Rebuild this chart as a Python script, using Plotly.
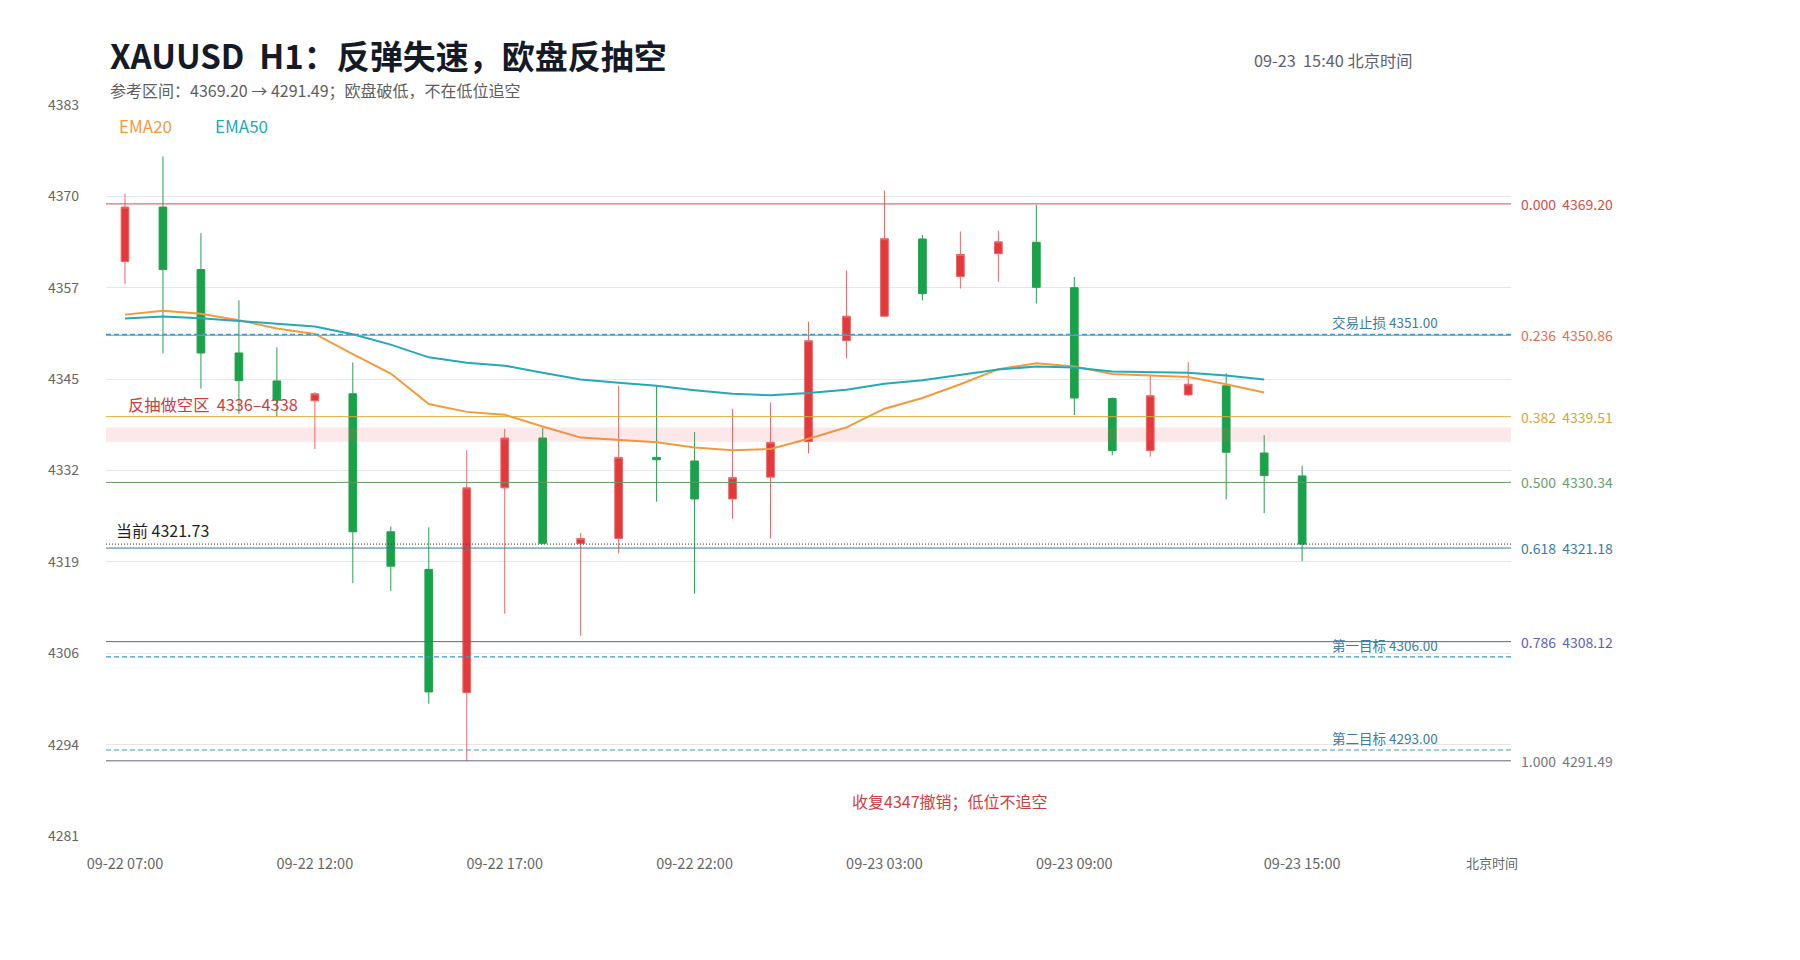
import plotly.graph_objects as go

# ---------------- data ----------------
times = [
    "09-22 07:00", "09-22 08:00", "09-22 09:00", "09-22 10:00", "09-22 11:00",
    "09-22 12:00", "09-22 13:00", "09-22 14:00", "09-22 15:00", "09-22 16:00",
    "09-22 17:00", "09-22 18:00", "09-22 19:00", "09-22 20:00", "09-22 21:00",
    "09-22 22:00", "09-22 23:00", "09-23 00:00", "09-23 01:00", "09-23 02:00",
    "09-23 03:00", "09-23 04:00", "09-23 06:00", "09-23 07:00", "09-23 08:00",
    "09-23 09:00", "09-23 10:00", "09-23 11:00", "09-23 12:00", "09-23 13:00",
    "09-23 14:00", "09-23 15:00",
]
open_ = [4361.15, 4368.76, 4360.04, 4348.40, 4344.50, 4341.72, 4342.70, 4323.45,
         4318.20, 4301.00, 4329.58, 4336.53, 4321.80, 4322.52, 4333.83, 4333.33,
         4328.03, 4331.07, 4336.04, 4350.11, 4353.53, 4364.30, 4359.05, 4362.25,
         4363.85, 4357.51, 4342.05, 4334.77, 4342.55, 4343.82, 4334.44, 4331.24]
high = [4370.64, 4375.83, 4365.12, 4355.74, 4349.17, 4342.94, 4347.07, 4324.17,
        4324.06, 4334.82, 4337.80, 4337.97, 4323.29, 4343.82, 4343.82, 4337.36,
        4340.62, 4341.50, 4352.76, 4359.93, 4371.08, 4364.85, 4365.34, 4365.45,
        4369.04, 4359.00, 4342.20, 4345.36, 4347.13, 4345.58, 4336.92, 4332.67]
low = [4358.00, 4348.34, 4343.43, 4339.90, 4339.50, 4334.99, 4316.28, 4315.18,
       4299.45, 4291.49, 4312.03, 4321.69, 4308.94, 4320.42, 4327.65, 4314.79,
       4325.28, 4322.52, 4334.38, 4347.63, 4353.40, 4355.74, 4357.40, 4358.33,
       4355.30, 4339.73, 4334.11, 4333.94, 4342.38, 4327.98, 4326.05, 4319.37]
close = [4368.76, 4360.04, 4348.40, 4344.54, 4341.80, 4342.71, 4323.45, 4318.65,
         4301.10, 4329.58, 4336.53, 4321.85, 4322.52, 4333.83, 4333.50, 4328.03,
         4331.02, 4335.93, 4350.11, 4353.53, 4364.35, 4356.68, 4362.14, 4363.91,
         4357.56, 4342.11, 4334.77, 4342.44, 4344.04, 4334.55, 4331.29, 4321.73]

ema20 = [4353.75, 4354.30, 4353.86, 4352.98, 4351.82, 4351.05, 4348.23, 4345.53,
         4341.28, 4340.18, 4339.79, 4338.13, 4336.59, 4336.31, 4335.93, 4335.21,
         4334.82, 4334.99, 4336.42, 4338.02, 4340.62, 4342.11, 4344.04, 4346.14,
         4346.96, 4346.52, 4345.47, 4345.25, 4345.03, 4344.04, 4342.88]
ema50 = [4353.20, 4353.48, 4353.26, 4352.92, 4352.48, 4352.10, 4351.00, 4349.56,
         4347.79, 4347.02, 4346.63, 4345.64, 4344.70, 4344.26, 4343.82, 4343.21,
         4342.71, 4342.49, 4342.82, 4343.27, 4344.09, 4344.59, 4345.31, 4346.08,
         4346.52, 4346.36, 4345.81, 4345.70, 4345.64, 4345.25, 4344.70]

fib_ratios = ["0.000", "0.236", "0.382", "0.500", "0.618", "0.786", "1.000"]
fib_levels = [4369.20, 4350.86, 4339.51, 4330.34, 4321.18, 4308.12, 4291.49]
fib_line_colors = ["#d24c4c", "#e07a55", "#d6ab3c", "#5f9a5f", "#2f7d8f", "#5d5db5", "#676778"]
fib_text_colors = ["#d24c4c", "#e0704e", "#d4a637", "#6e9e6e", "#3b7d9b", "#5f5fc0", "#767684"]

plan_names = ["交易止损", "第一目标", "第二目标"]
plan_levels = [4351.00, 4306.00, 4293.00]

current_price = 4321.73
zone_low, zone_high = 4336.0, 4338.0

y_tickvals = [4281, 4293.75, 4306.5, 4319.25, 4332, 4344.75, 4357.5, 4370.25, 4383]
y_ticktext = ["4281", "4294", "4306", "4319", "4332", "4345", "4357", "4370", "4383"]
x_tickvals = ["09-22 07:00", "09-22 12:00", "09-22 17:00", "09-22 22:00",
              "09-23 03:00", "09-23 09:00", "09-23 15:00"]

# ---------------- geometry helpers ----------------
W, H = 1800, 960
L, R, T, B = 106, 289, 105, 124
PW, PH = W - L - R, H - T - B


def px(x):
    return (x - L) / PW


def py(y):
    return (H - B - y) / PH


FONT = "Noto Sans CJK SC, Noto Sans, sans-serif"

fig = go.Figure()
fig.add_trace(go.Candlestick(
    x=times, open=open_, high=high, low=low, close=close,
    increasing=dict(fillcolor="#e5383a", line=dict(color="#e46a6a", width=1)),
    decreasing=dict(fillcolor="#17a449", line=dict(color="#2a9c52", width=1)),
    whiskerwidth=0, showlegend=False, hoverinfo="skip",
))
fig.add_trace(go.Scatter(x=times[:len(ema20)], y=ema20, mode="lines",
                         line=dict(color="#f29b3c", width=2), showlegend=False, hoverinfo="skip"))
fig.add_trace(go.Scatter(x=times[:len(ema50)], y=ema50, mode="lines",
                         line=dict(color="#24a9b9", width=2), showlegend=False, hoverinfo="skip"))

shapes = []
annotations = []

# short zone band
shapes.append(dict(type="rect", xref="paper", x0=0, x1=1, yref="y", y0=zone_low, y1=zone_high,
                   fillcolor="rgba(236,90,90,0.14)", line=dict(width=0), layer="above"))

# fib lines and labels
for r, lv, lc, tc in zip(fib_ratios, fib_levels, fib_line_colors, fib_text_colors):
    shapes.append(dict(type="line", xref="paper", x0=0, x1=1, yref="y", y0=lv, y1=lv,
                       line=dict(color=lc, width=1)))
    annotations.append(dict(xref="paper", x=px(1519), yref="y", y=lv, xanchor="left", yanchor="middle",
                            text=f"{r}\u00a0\u00a0{lv:.2f}", showarrow=False,
                            font=dict(family=FONT, size=14, color=tc)))

# plan lines (dashed)
for name, lv in zip(plan_names, plan_levels):
    shapes.append(dict(type="line", xref="paper", x0=0, x1=1, yref="y", y0=lv, y1=lv,
                       line=dict(color="#3f97c2", width=1.2, dash="5px,3px")))
    annotations.append(dict(xref="paper", x=px(1440), yref="y", y=lv, xanchor="right", yanchor="middle",
                            yshift=12, text=f"{name} {lv:.2f}", showarrow=False,
                            font=dict(family=FONT, size=13.5, color="#3d7c9c")))

# current price dotted
shapes.append(dict(type="line", xref="paper", x0=0, x1=1, yref="y", y0=current_price, y1=current_price,
                   line=dict(color="#333333", width=1, dash="1px,2px")))
annotations.append(dict(xref="paper", x=px(114), yref="y", y=current_price, xanchor="left",
                        yanchor="middle", yshift=14, text=f"当前 {current_price:.2f}", showarrow=False,
                        font=dict(family=FONT, size=16, color="#1f1f1f")))

# zone label
annotations.append(dict(xref="paper", x=px(126), yref="y", y=zone_high, xanchor="left", yanchor="middle",
                        yshift=24, text=f"反抽做空区\u00a0\u00a0{zone_low:.0f}–{zone_high:.0f}", showarrow=False,
                        font=dict(family=FONT, size=16.3, color="#c9413f")))

# title etc.
annotations += [
    dict(xref="paper", yref="paper", x=px(108), y=py(55), xanchor="left", yanchor="middle",
         text="<b>XAUUSD\u00a0\u00a0H1：反弹失速，欧盘反抽空</b>", showarrow=False,
         font=dict(family=FONT, size=33, color="#141a26")),
    dict(xref="paper", yref="paper", x=px(108), y=py(90), xanchor="left", yanchor="middle",
         text="参考区间：4369.20 → 4291.49；欧盘破低，不在低位追空", showarrow=False,
         font=dict(family=FONT, size=16, color="#5e5e5e")),
    dict(xref="paper", yref="paper", x=px(1252), y=py(60), xanchor="left", yanchor="middle",
         text="09-23\u00a0\u00a015:40 北京时间", showarrow=False,
         font=dict(family=FONT, size=16.3, color="#5c6270")),
    dict(xref="paper", yref="paper", x=px(117), y=py(126), xanchor="left", yanchor="middle",
         text="EMA20", showarrow=False, font=dict(family=FONT, size=17, color="#f29b3c")),
    dict(xref="paper", yref="paper", x=px(213), y=py(126), xanchor="left", yanchor="middle",
         text="EMA50", showarrow=False, font=dict(family=FONT, size=17, color="#24a9b9")),
    dict(xref="paper", yref="paper", x=px(950), y=py(801), xanchor="center", yanchor="middle",
         text="收复4347撤销；低位不追空", showarrow=False,
         font=dict(family=FONT, size=16, color="#c9413f")),
    dict(xref="paper", yref="paper", x=px(1492), y=py(862), xanchor="center", yanchor="middle",
         text="北京时间", showarrow=False, font=dict(family=FONT, size=13, color="#666666")),
]

fig.update_layout(
    width=W, height=H, autosize=False,
    margin=dict(l=L, r=R, t=T, b=B, pad=0),
    paper_bgcolor="white", plot_bgcolor="white",
    font=dict(family=FONT, size=13, color="#666666"),
    boxgap=0.71,
    shapes=shapes, annotations=annotations,
    showlegend=False,
    xaxis=dict(type="category", categoryorder="array", categoryarray=times,
               range=[-0.5, 36.5], tickmode="array", tickvals=x_tickvals,
               showgrid=False, zeroline=False, showline=False, ticks="",
               ticklabelstandoff=17, tickfont=dict(family=FONT, size=14.5, color="#666666"),
               rangeslider=dict(visible=False), fixedrange=True),
    yaxis=dict(range=[4281, 4383], tickmode="array", tickvals=y_tickvals, ticktext=y_ticktext,
               showgrid=True, gridcolor="#e4e6ea", gridwidth=1, zeroline=False, showline=False,
               ticks="", ticklabelstandoff=26, tickfont=dict(family=FONT, size=14, color="#666666"),
               fixedrange=True),
)

fig.write_html("out.html", config={"displayModeBar": False},
               post_script="document.body.style.margin='0';document.body.style.overflow='hidden';")
